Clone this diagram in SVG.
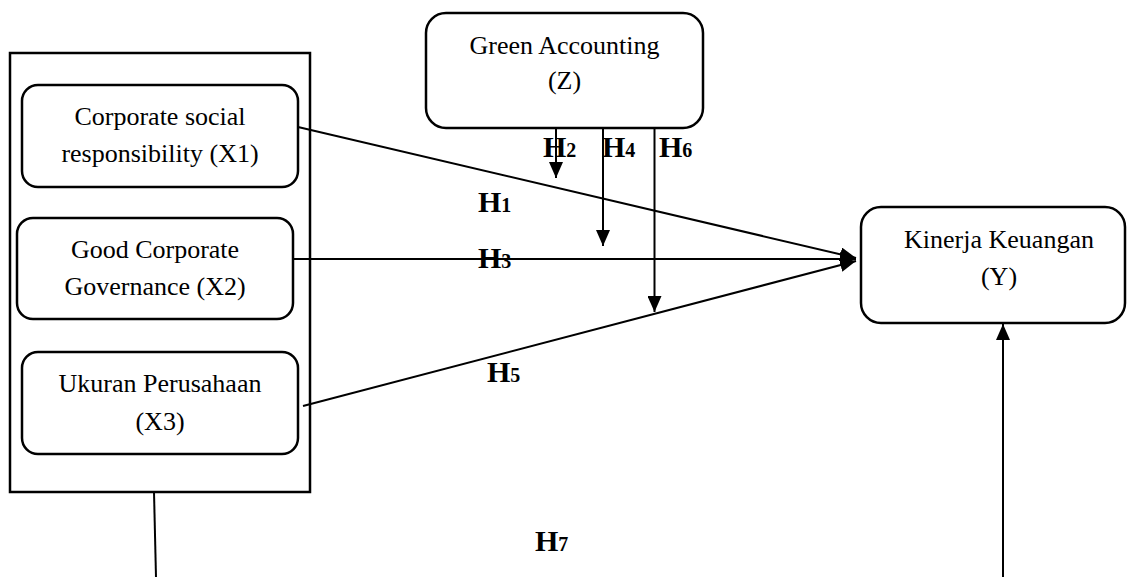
<svg xmlns="http://www.w3.org/2000/svg" width="1128" height="577" viewBox="0 0 1128 577">
<style>
.box{fill:#fff;stroke:#000;stroke-width:2.5}
.t{font-family:"Liberation Serif","Times New Roman",serif;font-size:26px;fill:#000;text-anchor:middle}
.h{font-family:"Liberation Serif","Times New Roman",serif;font-size:30px;font-weight:bold;fill:#000}
.s{font-size:20px}
.ln{stroke:#000;stroke-width:2;fill:none}
</style>
<defs>
<marker id="ah" viewBox="0 0 16 14" refX="16" refY="7" markerWidth="16" markerHeight="14" markerUnits="userSpaceOnUse" orient="auto">
<path d="M0,0 L16,7 L0,14 Z" fill="#000"/>
</marker>
</defs>
<rect width="1128" height="577" fill="#fff"/>
<g id="group-x">
<rect x="10" y="53" width="300" height="439" fill="#fff" stroke="#000" stroke-width="2.5"/>
</g>
<g id="node-x1">
<rect class="box" x="22" y="85" width="276" height="102" rx="16"/>
<text class="t" x="160" y="125">Corporate social</text>
<text class="t" x="160" y="162">responsibility (X1)</text>
</g>
<g id="node-x2">
<rect class="box" x="17" y="218" width="276" height="101" rx="16"/>
<text class="t" x="155" y="258">Good Corporate</text>
<text class="t" x="155" y="295">Governance (X2)</text>
</g>
<g id="node-x3">
<rect class="box" x="22" y="352" width="276" height="102" rx="16"/>
<text class="t" x="160" y="392">Ukuran Perusahaan</text>
<text class="t" x="160" y="430">(X3)</text>
</g>
<g id="node-z">
<rect class="box" x="426" y="13" width="277" height="115" rx="20"/>
<text class="t" x="564.5" y="54">Green Accounting</text>
<text class="t" x="564.5" y="89">(Z)</text>
</g>
<g id="node-y">
<rect class="box" x="861" y="207" width="264" height="116" rx="20"/>
<text class="t" x="999" y="248">Kinerja Keuangan</text>
<text class="t" x="999" y="285">(Y)</text>
</g>
<g id="connectors">
<line class="ln" x1="298" y1="127" x2="856" y2="258" marker-end="url(#ah)"/>
<line class="ln" x1="293" y1="259" x2="856" y2="259" marker-end="url(#ah)"/>
<line class="ln" x1="303" y1="406" x2="856" y2="261" marker-end="url(#ah)"/>
<line class="ln" x1="556" y1="128" x2="556" y2="178" marker-end="url(#ah)"/>
<line class="ln" x1="603" y1="128" x2="603" y2="246" marker-end="url(#ah)"/>
<line class="ln" x1="654.5" y1="128" x2="654.5" y2="312" marker-end="url(#ah)"/>
<line class="ln" x1="1003" y1="577" x2="1003" y2="324" marker-end="url(#ah)"/>
<line class="ln" x1="154" y1="492" x2="156" y2="577"/>
</g>
<g id="labels">
<text class="h" x="543" y="157">H<tspan class="s">2</tspan></text>
<text class="h" x="602" y="157">H<tspan class="s">4</tspan></text>
<text class="h" x="659" y="157">H<tspan class="s">6</tspan></text>
<text class="h" x="478" y="212">H<tspan class="s">1</tspan></text>
<text class="h" x="478" y="268">H<tspan class="s">3</tspan></text>
<text class="h" x="487" y="382">H<tspan class="s">5</tspan></text>
<text class="h" x="535" y="551">H<tspan class="s">7</tspan></text>
</g>
</svg>
